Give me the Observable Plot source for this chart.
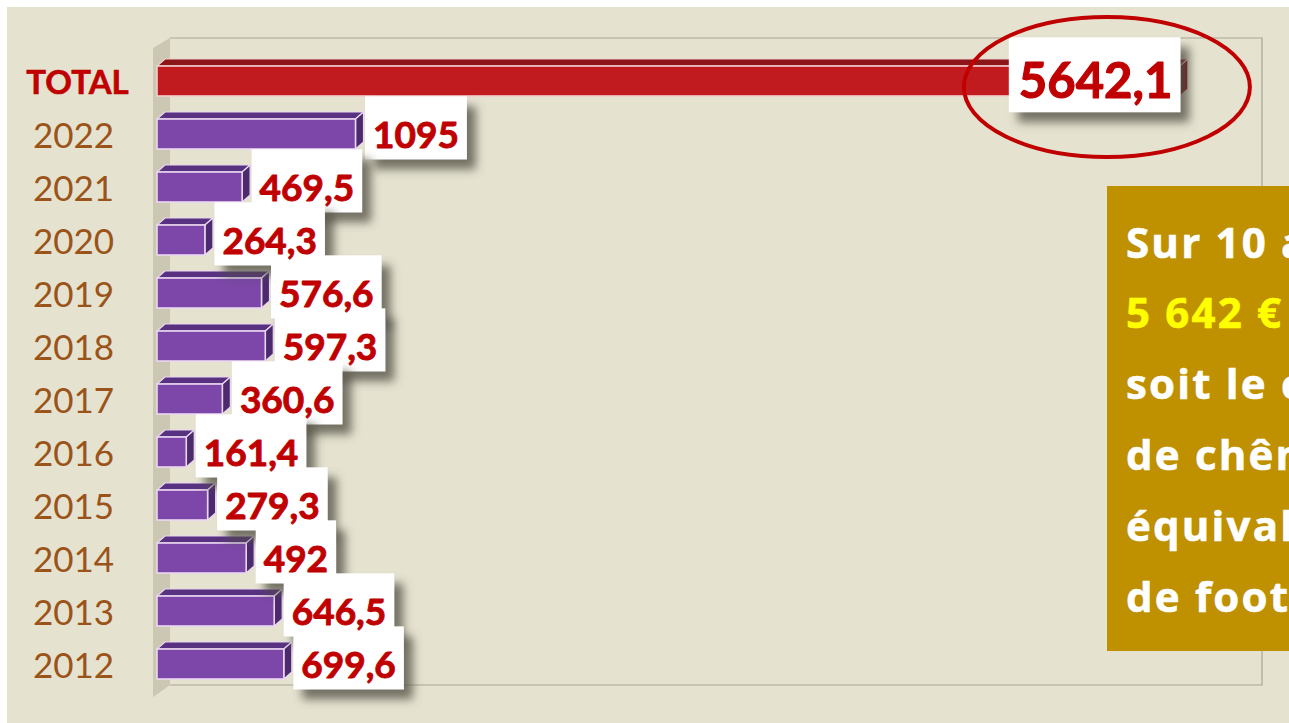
<!DOCTYPE html>
<html>
<head>
<meta charset="utf-8">
<script src="https://cdn.jsdelivr.net/npm/d3@7"></script>
<script src="https://cdn.jsdelivr.net/npm/@observablehq/plot@0.6"></script>
<style>
html, body { margin: 0; padding: 0; background: #ffffff; overflow: hidden; }
#wrap { position: relative; width: 1289px; height: 723px; overflow: hidden; background: #ffffff; }
#bg { position: absolute; left: 7px; top: 7px; right: 0; bottom: 0; background: #E5E2D0; }
#wrap > svg { position: absolute; left: 0; top: 0; }
</style>
</head>
<body>
<div id="wrap"><div id="bg"></div></div>
<script>
// ---- data ----
const categories = ["TOTAL", "2022", "2021", "2020", "2019", "2018", "2017", "2016", "2015", "2014", "2013", "2012"];
const values = [5642.1, 1095, 469.5, 264.3, 576.6, 597.3, 360.6, 161.4, 279.3, 492, 646.5, 699.6];
const valueLabels = ["5642,1", "1095", "469,5", "264,3", "576,6", "597,3", "360,6", "161,4", "279,3", "492", "646,5", "699,6"];
const noteLines = ["Sur 10 ans,", "5 642 € dépensés", "soit le coût", "de chênes", "équivalent à", "de football"];

const data = categories.map((c, i) => ({cat: c, value: values[i], label: valueLabels[i]}));

const DX = 8, DY = 7; // 3D depth (pixels)

function walls(index, scales, vals, dims) {
  const {marginLeft: l, marginTop: t, width: w, height: h, marginRight: r, marginBottom: b} = dims;
  const X0 = l + 13, X1 = w - r, Y0 = t - 11, Y1 = h - b - 10;
  const g = d3.create("svg:g");
  g.append("path")
    .attr("d", `M${l - 4},${t - 1}L${X0},${Y0}L${X0},${Y1}L${l - 4},${h - b + 2}Z`)
    .attr("fill", "#CBC7B3");
  g.append("path")
    .attr("d", `M${X0},${Y0}H${X1}V${Y1}H${X0}`)
    .attr("fill", "none").attr("stroke", "#A9A696").attr("stroke-width", 1.2);
  return g.node();
}

function bars3d(index, scales, vals, dims) {
  const g = d3.create("svg:g");
  const bw = scales.y.bandwidth();
  for (const i of index) {
    const d = data[i];
    const X1 = vals.x1[i], X2 = vals.x2[i], Y = vals.y[i];
    const tot = d.cat === "TOTAL";
    const front = tot ? "#C21B1F" : "#7C47A8";
    const top = tot ? "#8C1518" : "#583281";
    const side = tot ? "#761114" : "#4B2A6E";
    const edge = tot ? "#F0CFCF" : "#EAD8F0";
    g.append("path")
      .attr("d", `M${X1},${Y}L${X2},${Y}L${X2 + DX},${Y - DY}L${X1 + DX},${Y - DY}Z`)
      .attr("fill", top).attr("stroke", edge).attr("stroke-width", 1.2).attr("stroke-linejoin", "round");
    g.append("path")
      .attr("d", `M${X2},${Y}L${X2 + DX},${Y - DY}L${X2 + DX},${Y + bw - DY}L${X2},${Y + bw}Z`)
      .attr("fill", side).attr("stroke", edge).attr("stroke-width", 1.2).attr("stroke-linejoin", "round");
    g.append("rect")
      .attr("x", X1).attr("y", Y).attr("width", X2 - X1).attr("height", bw)
      .attr("fill", front).attr("stroke", edge).attr("stroke-width", 1.6);
  }
  return g.node();
}

const plot = Plot.plot({
  width: 1289,
  height: 723,
  marginLeft: 157,
  marginRight: 27,
  marginTop: 49,
  marginBottom: 28,
  style: {background: "transparent", overflow: "visible"},
  x: {domain: [0, 6095], axis: null},
  y: {domain: categories, axis: null, paddingInner: 0.44, paddingOuter: 0.22},
  marks: [
    walls,
    Plot.barX(data, {x: "value", y: "cat", render: bars3d}),
    Plot.text(data.filter(d => d.cat !== "TOTAL"), {
      x: "value", y: "cat", text: "label", textAnchor: "start",
      dx: 17, dy: 2, fill: "#C00000", stroke: "#C00000", strokeWidth: 0.9, fontWeight: 700, fontSize: 37,
      fontFamily: "Lato, 'Open Sans', sans-serif"
    }),
    Plot.text(data.filter(d => d.cat === "TOTAL"), {
      x: "value", y: "cat", text: "label", textAnchor: "end",
      dx: -8, dy: 1, fill: "#C00000", stroke: "#C00000", strokeWidth: 1.1, fontWeight: 700, fontSize: 49,
      fontFamily: "Lato, 'Open Sans', sans-serif"
    }),
    Plot.text(categories.filter(c => c !== "TOTAL"), {
      y: d => d, text: d => d, frameAnchor: "left", dx: -84, dy: 2, textAnchor: "middle",
      fill: "#9A5419", fontSize: 35, fontFamily: "Lato, 'Open Sans', sans-serif"
    }),
    Plot.text(categories.filter(c => c === "TOTAL"), {
      y: d => d, text: d => d, frameAnchor: "left", dx: -80, dy: 2, textAnchor: "middle",
      fill: "#C00000", stroke: "#C00000", strokeWidth: 0.6, fontWeight: 700, fontSize: 33,
      fontFamily: "Lato, 'Open Sans', sans-serif"
    })
  ]
});

const wrap = document.getElementById("wrap");
wrap.append(plot);

const NS = "http://www.w3.org/2000/svg";
const svg = d3.select(plot);
const defs = svg.insert("defs", ":first-child");
defs.append("filter").attr("id", "boxShadow").attr("x", "-20%").attr("y", "-20%").attr("width", "160%").attr("height", "180%")
  .append("feDropShadow").attr("dx", 9).attr("dy", 10).attr("stdDeviation", 5)
  .attr("flood-color", "#4f4d3f").attr("flood-opacity", 0.75);

// white label boxes behind value labels
const svgRect = plot.getBoundingClientRect();
const boxGroups = new Map();
for (const t of plot.querySelectorAll("text")) {
  const idx = valueLabels.indexOf(t.textContent);
  if (idx < 0) continue;
  const parent = t.parentNode;
  let boxes = boxGroups.get(parent);
  if (!boxes) {
    boxes = document.createElementNS(NS, "g");
    parent.parentNode.insertBefore(boxes, parent);
    boxGroups.set(parent, boxes);
  }
  const r = t.getBoundingClientRect();
  const isTotal = idx === 0;
  const padL = isTotal ? 10 : 8, padR = 8;
  const top = isTotal ? 13 : 15, bottom = isTotal ? 4 : 3;
  const rect = document.createElementNS(NS, "rect");
  rect.setAttribute("x", r.left - svgRect.left - padL);
  rect.setAttribute("y", r.top - svgRect.top - top);
  rect.setAttribute("width", r.width + padL + padR);
  rect.setAttribute("height", r.height + top + bottom);
  rect.setAttribute("fill", "#ffffff");
  rect.setAttribute("filter", "url(#boxShadow)");
  boxes.append(rect);
}

// red ellipse around the total
const xs = plot.scale("x"), ys = plot.scale("y");
const cx = xs.apply(values[0]) - 73;
const cy = ys.apply(categories[0]) + ys.bandwidth / 2 + 6;
svg.append("ellipse").attr("cx", cx).attr("cy", cy).attr("rx", 143).attr("ry", 70)
  .attr("fill", "none").attr("stroke", "#C00000").attr("stroke-width", 4);

// gold note box (clipped on the right as in the reference)
const note = svg.append("g").attr("text-anchor", "start");
note.append("rect").attr("x", 1107).attr("y", 186).attr("width", 260).attr("height", 465).attr("fill", "#BF9000");
const baselines = [258, 328, 399, 470, 541, 612];
noteLines.forEach((line, i) => {
  const c = i === 1 ? "#FFFF00" : "#ffffff";
  note.append("text").attr("x", 1126).attr("y", baselines[i])
    .attr("text-anchor", "start")
    .attr("fill", c).attr("stroke", c).attr("stroke-width", 0.6)
    .attr("font-family", "'Open Sans', Lato, sans-serif").attr("font-weight", 700)
    .attr("font-size", 42).attr("letter-spacing", 2.2)
    .text(line);
});
</script>
</body>
</html>
